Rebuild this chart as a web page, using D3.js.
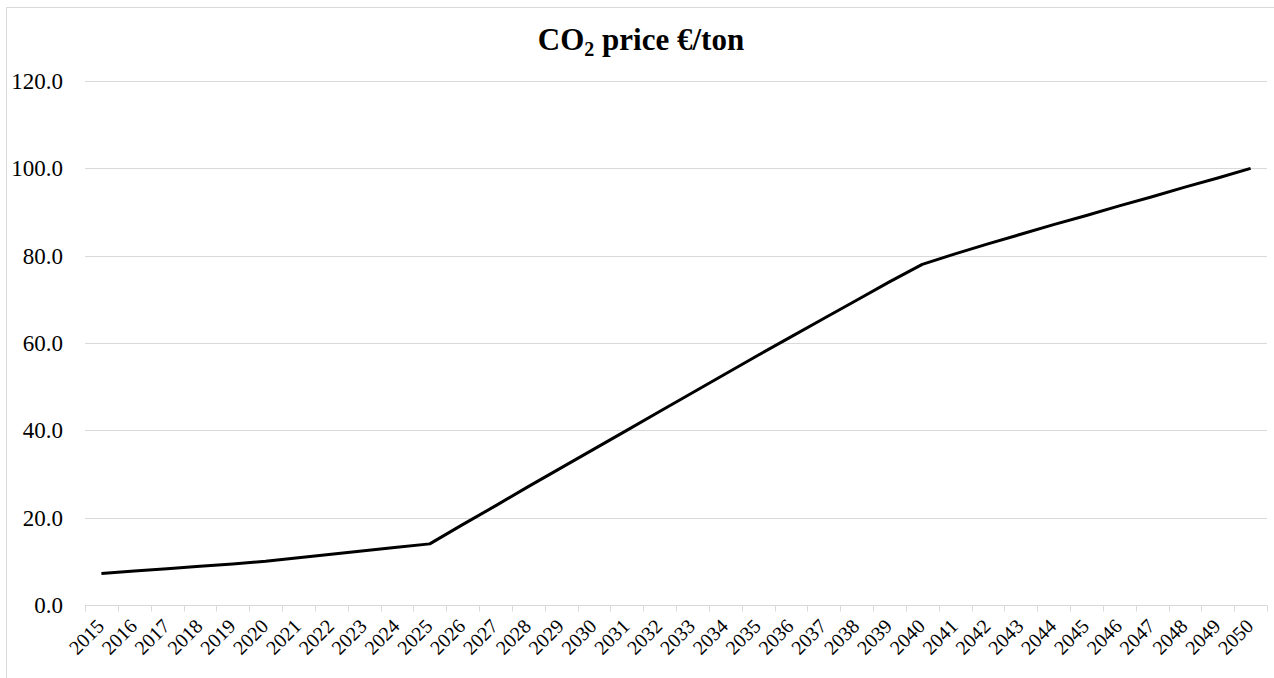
<!DOCTYPE html>
<html>
<head>
<meta charset="utf-8">
<style>
  body { margin: 0; background: #fff; }
  svg { display: block; font-family: "Liberation Serif", "Times New Roman", serif; }
</style>
</head>
<body>
<div id="container"></div>
<script src="https://cdn.jsdelivr.net/npm/d3@7"></script>
<script>
// CO2 price per year, €/ton
const years = d3.range(2015, 2051).map(String);
const prices = [
  7.2, 7.8, 8.3, 8.9, 9.4, 10.0,
  10.8, 11.6, 12.4, 13.2, 14.0,
  18.4, 22.7, 27.1, 31.4, 35.7,
  40.0, 44.3, 48.6, 52.9, 57.2,
  61.4, 65.6, 69.8, 74.0, 78.0,
  80.4, 82.7, 84.9, 87.1, 89.2,
  91.4, 93.5, 95.7, 97.8, 100.0
];
const yTicks = [0, 20, 40, 60, 80, 100, 120];

const width = 1274, height = 678;
const margin = { top: 81, right: 7, bottom: 73, left: 85 };

const svg = d3.select("#container")
  .append("svg")
  .attr("width", width)
  .attr("height", height);

// chart border
svg.append("rect")
  .attr("x", 6.5)
  .attr("y", 7.5)
  .attr("width", 1300)
  .attr("height", 700)
  .attr("fill", "none")
  .attr("stroke", "#d9d9d9");

const x = d3.scaleBand()
  .domain(years)
  .range([margin.left, width - margin.right]);

const y = d3.scaleLinear()
  .domain([0, 120])
  .range([height - margin.bottom, margin.top]);

// gridlines
svg.append("g")
  .selectAll("line")
  .data(yTicks.filter(d => d > 0))
  .join("line")
  .attr("x1", margin.left)
  .attr("x2", width - margin.right)
  .attr("y1", d => Math.round(y(d)) + 0.5)
  .attr("y2", d => Math.round(y(d)) + 0.5)
  .attr("stroke", "#d9d9d9")
  .attr("stroke-width", 1);

// y labels
svg.append("g")
  .selectAll("text")
  .data(yTicks)
  .join("text")
  .attr("x", 63)
  .attr("y", d => y(d))
  .attr("dy", "0.35em")
  .attr("text-anchor", "end")
  .attr("font-size", "23px")
  .attr("fill", "#000")
  .text(d => d.toFixed(1));

// x axis line + tick marks at category boundaries
const y0 = Math.round(y(0)) + 0.5;
svg.append("line")
  .attr("x1", margin.left)
  .attr("x2", width - margin.right)
  .attr("y1", y0)
  .attr("y2", y0)
  .attr("stroke", "#d9d9d9");

svg.append("g")
  .selectAll("line")
  .data(years.concat(["end"]))
  .join("line")
  .attr("x1", (d, i) => Math.round(margin.left + i * x.step()) + 0.5)
  .attr("x2", (d, i) => Math.round(margin.left + i * x.step()) + 0.5)
  .attr("y1", y0)
  .attr("y2", y0 + 6)
  .attr("stroke", "#d9d9d9");

// x labels, rotated
svg.append("g")
  .selectAll("text")
  .data(years)
  .join("text")
  .attr("transform", d => `translate(${x(d) + x.bandwidth() / 2 + 4},${y0 + 22}) rotate(-45)`)
  .attr("text-anchor", "end")
  .attr("font-size", "20px")
  .attr("fill", "#000")
  .text(d => d);

// the line
const line = d3.line()
  .x((d, i) => x(years[i]) + x.bandwidth() / 2)
  .y(d => y(d));

svg.append("path")
  .datum(prices)
  .attr("d", line)
  .attr("fill", "none")
  .attr("stroke", "#000")
  .attr("stroke-width", 3)
  .attr("stroke-linejoin", "round");

// title
const title = svg.append("text")
  .attr("x", 641)
  .attr("y", 50)
  .attr("text-anchor", "middle")
  .attr("font-size", "31px")
  .attr("font-weight", "bold")
  .attr("fill", "#000");
title.append("tspan").text("CO");
title.append("tspan").attr("font-size", "20px").attr("dy", 6).text("2");
title.append("tspan").attr("dy", -6).text(" price €/ton");
</script>
</body>
</html>
